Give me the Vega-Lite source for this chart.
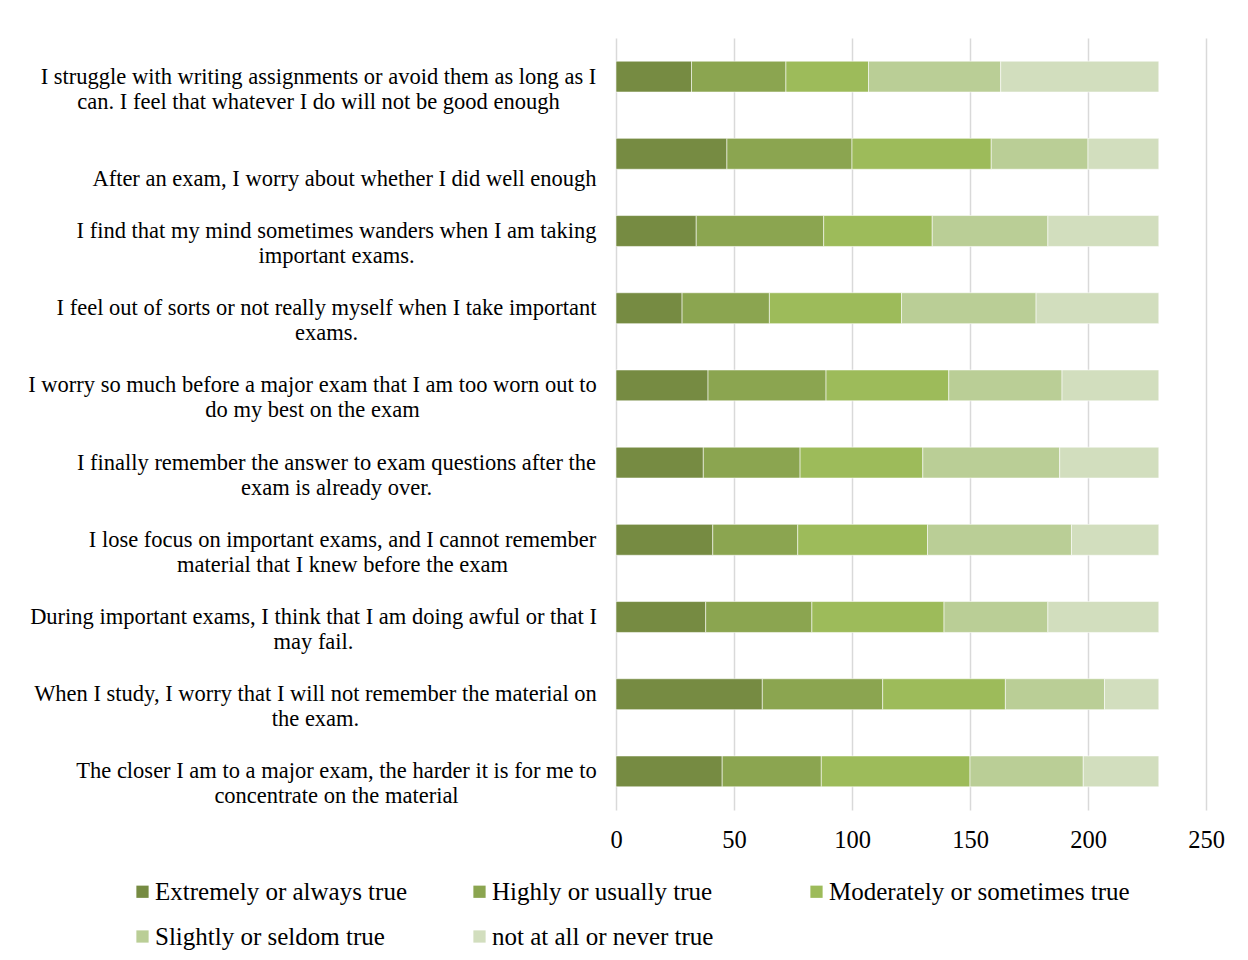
{
  "$schema": "https://vega.github.io/schema/vega-lite/v6.json",
  "autosize": {"type": "none"},
  "padding": {"left": 616, "top": 38, "right": 42, "bottom": 151},
  "width": 590,
  "height": 772,
  "background": "white",
  "data": {
    "values": [
      {"q": "I struggle with writing assignments or avoid them as long as I\ncan. I feel that whatever I do will not be good enough", "level": "Extremely or always true", "k": 1, "n": 32},
      {"q": "I struggle with writing assignments or avoid them as long as I\ncan. I feel that whatever I do will not be good enough", "level": "Highly or usually true", "k": 2, "n": 40},
      {"q": "I struggle with writing assignments or avoid them as long as I\ncan. I feel that whatever I do will not be good enough", "level": "Moderately or sometimes true", "k": 3, "n": 35},
      {"q": "I struggle with writing assignments or avoid them as long as I\ncan. I feel that whatever I do will not be good enough", "level": "Slightly or seldom true", "k": 4, "n": 56},
      {"q": "I struggle with writing assignments or avoid them as long as I\ncan. I feel that whatever I do will not be good enough", "level": "not at all or never true", "k": 5, "n": 67},
      {"q": "After an exam, I worry about whether I did well enough", "level": "Extremely or always true", "k": 1, "n": 47},
      {"q": "After an exam, I worry about whether I did well enough", "level": "Highly or usually true", "k": 2, "n": 53},
      {"q": "After an exam, I worry about whether I did well enough", "level": "Moderately or sometimes true", "k": 3, "n": 59},
      {"q": "After an exam, I worry about whether I did well enough", "level": "Slightly or seldom true", "k": 4, "n": 41},
      {"q": "After an exam, I worry about whether I did well enough", "level": "not at all or never true", "k": 5, "n": 30},
      {"q": "I find that my mind sometimes wanders when I am taking\nimportant exams.", "level": "Extremely or always true", "k": 1, "n": 34},
      {"q": "I find that my mind sometimes wanders when I am taking\nimportant exams.", "level": "Highly or usually true", "k": 2, "n": 54},
      {"q": "I find that my mind sometimes wanders when I am taking\nimportant exams.", "level": "Moderately or sometimes true", "k": 3, "n": 46},
      {"q": "I find that my mind sometimes wanders when I am taking\nimportant exams.", "level": "Slightly or seldom true", "k": 4, "n": 49},
      {"q": "I find that my mind sometimes wanders when I am taking\nimportant exams.", "level": "not at all or never true", "k": 5, "n": 47},
      {"q": "I feel out of sorts or not really myself when I take important\nexams.", "level": "Extremely or always true", "k": 1, "n": 28},
      {"q": "I feel out of sorts or not really myself when I take important\nexams.", "level": "Highly or usually true", "k": 2, "n": 37},
      {"q": "I feel out of sorts or not really myself when I take important\nexams.", "level": "Moderately or sometimes true", "k": 3, "n": 56},
      {"q": "I feel out of sorts or not really myself when I take important\nexams.", "level": "Slightly or seldom true", "k": 4, "n": 57},
      {"q": "I feel out of sorts or not really myself when I take important\nexams.", "level": "not at all or never true", "k": 5, "n": 52},
      {"q": "I worry so much before a major exam that I am too worn out to\ndo my best on the exam", "level": "Extremely or always true", "k": 1, "n": 39},
      {"q": "I worry so much before a major exam that I am too worn out to\ndo my best on the exam", "level": "Highly or usually true", "k": 2, "n": 50},
      {"q": "I worry so much before a major exam that I am too worn out to\ndo my best on the exam", "level": "Moderately or sometimes true", "k": 3, "n": 52},
      {"q": "I worry so much before a major exam that I am too worn out to\ndo my best on the exam", "level": "Slightly or seldom true", "k": 4, "n": 48},
      {"q": "I worry so much before a major exam that I am too worn out to\ndo my best on the exam", "level": "not at all or never true", "k": 5, "n": 41},
      {"q": "I finally remember the answer to exam questions after the\nexam is already over.", "level": "Extremely or always true", "k": 1, "n": 37},
      {"q": "I finally remember the answer to exam questions after the\nexam is already over.", "level": "Highly or usually true", "k": 2, "n": 41},
      {"q": "I finally remember the answer to exam questions after the\nexam is already over.", "level": "Moderately or sometimes true", "k": 3, "n": 52},
      {"q": "I finally remember the answer to exam questions after the\nexam is already over.", "level": "Slightly or seldom true", "k": 4, "n": 58},
      {"q": "I finally remember the answer to exam questions after the\nexam is already over.", "level": "not at all or never true", "k": 5, "n": 42},
      {"q": "I lose focus on important exams, and I cannot remember\nmaterial that I knew before the exam", "level": "Extremely or always true", "k": 1, "n": 41},
      {"q": "I lose focus on important exams, and I cannot remember\nmaterial that I knew before the exam", "level": "Highly or usually true", "k": 2, "n": 36},
      {"q": "I lose focus on important exams, and I cannot remember\nmaterial that I knew before the exam", "level": "Moderately or sometimes true", "k": 3, "n": 55},
      {"q": "I lose focus on important exams, and I cannot remember\nmaterial that I knew before the exam", "level": "Slightly or seldom true", "k": 4, "n": 61},
      {"q": "I lose focus on important exams, and I cannot remember\nmaterial that I knew before the exam", "level": "not at all or never true", "k": 5, "n": 37},
      {"q": "During important exams, I think that I am doing awful or that I\nmay fail.", "level": "Extremely or always true", "k": 1, "n": 38},
      {"q": "During important exams, I think that I am doing awful or that I\nmay fail.", "level": "Highly or usually true", "k": 2, "n": 45},
      {"q": "During important exams, I think that I am doing awful or that I\nmay fail.", "level": "Moderately or sometimes true", "k": 3, "n": 56},
      {"q": "During important exams, I think that I am doing awful or that I\nmay fail.", "level": "Slightly or seldom true", "k": 4, "n": 44},
      {"q": "During important exams, I think that I am doing awful or that I\nmay fail.", "level": "not at all or never true", "k": 5, "n": 47},
      {"q": "When I study, I worry that I will not remember the material on\nthe exam.", "level": "Extremely or always true", "k": 1, "n": 62},
      {"q": "When I study, I worry that I will not remember the material on\nthe exam.", "level": "Highly or usually true", "k": 2, "n": 51},
      {"q": "When I study, I worry that I will not remember the material on\nthe exam.", "level": "Moderately or sometimes true", "k": 3, "n": 52},
      {"q": "When I study, I worry that I will not remember the material on\nthe exam.", "level": "Slightly or seldom true", "k": 4, "n": 42},
      {"q": "When I study, I worry that I will not remember the material on\nthe exam.", "level": "not at all or never true", "k": 5, "n": 23},
      {"q": "The closer I am to a major exam, the harder it is for me to\nconcentrate on the material", "level": "Extremely or always true", "k": 1, "n": 45},
      {"q": "The closer I am to a major exam, the harder it is for me to\nconcentrate on the material", "level": "Highly or usually true", "k": 2, "n": 42},
      {"q": "The closer I am to a major exam, the harder it is for me to\nconcentrate on the material", "level": "Moderately or sometimes true", "k": 3, "n": 63},
      {"q": "The closer I am to a major exam, the harder it is for me to\nconcentrate on the material", "level": "Slightly or seldom true", "k": 4, "n": 48},
      {"q": "The closer I am to a major exam, the harder it is for me to\nconcentrate on the material", "level": "not at all or never true", "k": 5, "n": 32}
    ]
  },
  "mark": {"type": "bar", "stroke": "#ffffff", "strokeWidth": 0.8, "strokeOpacity": 0.7},
  "encoding": {
    "y": {
      "field": "q",
      "type": "nominal",
      "sort": null,
      "scale": {"paddingInner": 0.6, "paddingOuter": 0.3},
      "axis": {
        "title": null,
        "domain": false,
        "ticks": false,
        "labelExpr": "split(datum.label, '\\n')",
        "labelAlign": "center",
        "labelPadding": {
          "condition": [
            {"test": "indexof(datum.value, 'I struggle') == 0", "value": 298},
            {"test": "indexof(datum.value, 'After an exam') == 0", "value": 272},
            {"test": "indexof(datum.value, 'I find that') == 0", "value": 280},
            {"test": "indexof(datum.value, 'I feel out') == 0", "value": 290},
            {"test": "indexof(datum.value, 'I worry so') == 0", "value": 304},
            {"test": "indexof(datum.value, 'I finally') == 0", "value": 280},
            {"test": "indexof(datum.value, 'I lose') == 0", "value": 274},
            {"test": "indexof(datum.value, 'During') == 0", "value": 303},
            {"test": "indexof(datum.value, 'When I study') == 0", "value": 301},
            {"test": "indexof(datum.value, 'The closer') == 0", "value": 280}
          ],
          "value": 294
        },
        "labelOffset": {
          "condition": {"test": "indexof(datum.value, 'After an exam') == 0", "value": 25},
          "value": 0
        },
        "labelFont": "Liberation Serif",
        "labelFontSize": 22.5,
        "labelLineHeight": 25,
        "labelColor": "#000000",
        "labelLimit": 0
      }
    },
    "x": {
      "field": "n",
      "type": "quantitative",
      "stack": "zero",
      "scale": {"domain": [0, 250], "nice": false},
      "axis": {
        "title": null,
        "values": [0, 50, 100, 150, 200, 250],
        "domain": false,
        "ticks": false,
        "grid": true,
        "gridColor": "#D9D9D9",
        "gridWidth": 1.5,
        "labelFlush": false,
        "labelPadding": 18,
        "labelFont": "Liberation Serif",
        "labelFontSize": 24.5,
        "labelColor": "#000000"
      }
    },
    "color": {
      "field": "level",
      "type": "nominal",
      "scale": {
        "domain": ["Extremely or always true", "Highly or usually true", "Moderately or sometimes true", "Slightly or seldom true", "not at all or never true"],
        "range": ["#768B42", "#8BA550", "#9DBB5A", "#BACE96", "#D2DEBE"]
      },
      "legend": {
        "title": null,
        "orient": "none",
        "legendX": -486,
        "legendY": 841,
        "direction": "horizontal",
        "columns": 3,
        "gridAlign": "all",
        "symbolType": "square",
        "symbolSize": 150,
        "symbolStrokeWidth": 0,
        "labelOffset": 0,
        "labelFont": "Liberation Serif",
        "labelFontSize": 25,
        "labelColor": "#000000",
        "labelLimit": 0,
        "columnPadding": 11,
        "rowPadding": 19
      }
    },
    "order": {"field": "k", "type": "quantitative"}
  },
  "config": {
    "view": {"stroke": null}
  }
}
